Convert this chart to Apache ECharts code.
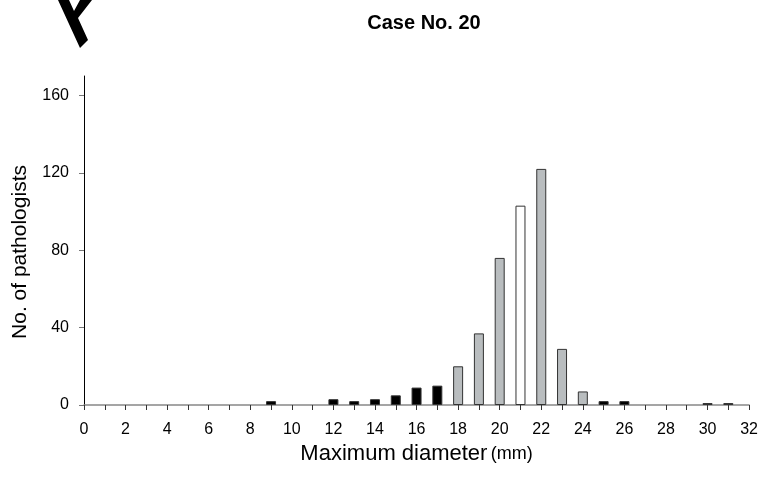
<!DOCTYPE html>
<html>
<head>
<meta charset="utf-8">
<script src="https://cdn.jsdelivr.net/npm/echarts@6/dist/echarts.min.js"></script>
<style>
  html, body { margin: 0; padding: 0; background: #fff; }
  #chart { width: 761px; height: 477px; }
</style>
</head>
<body>
<div id="chart"></div>
<script>
// diameter (mm) reported and how many pathologists reported it
const diameters = [9, 12, 13, 14, 15, 16, 17, 18, 19, 20, 21, 22, 23, 24, 25, 26, 30, 31];
const counts = [2, 3, 2, 3, 5, 9, 10, 20, 37, 76, 103, 122, 29, 7, 2, 2, 1, 1];
const trueDiameter = 21;
const nearRange = [18, 24];
const yTicks = [0, 40, 80, 120, 160];

const font = 'Liberation Sans, Arial, sans-serif';

const barData = diameters.map((d, i) => [d, counts[i]]);

function barColor (d) {
  if (d === trueDiameter) return '#ffffff';
  if (d >= nearRange[0] && d <= nearRange[1]) return '#b9bdbf';
  return '#000000';
}

const chart = echarts.init(document.getElementById('chart'));
chart.setOption({
  animation: false,
  title: {
    text: 'Case No. 20',
    left: 419,
    top: 8,
    textAlign: 'center',
    textStyle: { fontFamily: font, fontSize: 20, fontWeight: 'bold', color: '#000' }
  },
  graphic: [
    {
      type: 'polygon',
      shape: {
        points: [[58, 0], [69, 0], [74, 11], [80, 0], [92, 0], [78, 18], [88, 40], [80, 48]]
      },
      style: { fill: '#000' }
    },
    {
      // y axis title, sits a little below the axis middle in the original
      type: 'text',
      x: 20,
      y: 252,
      rotation: Math.PI / 2,
      style: {
        text: 'No. of pathologists',
        fontFamily: font,
        fontSize: 21,
        fill: '#000',
        align: 'center',
        verticalAlign: 'middle'
      }
    }
  ],
  grid: { left: 84, right: 11.5, top: 76, bottom: 72 },
  xAxis: {
    type: 'value',
    min: 0,
    max: 32,
    interval: 1,
    splitLine: { show: false },
    axisLine: { lineStyle: { color: '#888', width: 1.5 } },
    axisTick: { length: 5, lineStyle: { color: '#333' } },
    axisLabel: {
      margin: 17,
      fontFamily: font,
      fontSize: 16,
      color: '#000',
      formatter: v => (v % 2 === 0 ? String(v) : '')
    },
    name: '{a|Maximum diameter} {b|(mm)}',
    nameLocation: 'middle',
    nameGap: 37,
    nameTextStyle: {
      rich: {
        a: { fontFamily: font, fontSize: 22, color: '#000' },
        b: { fontFamily: font, fontSize: 18, color: '#000' }
      }
    }
  },
  yAxis: {
    type: 'value',
    min: 0,
    max: 170,
    interval: 40,
    splitLine: { show: false },
    axisLine: { show: true, lineStyle: { color: '#000', width: 1 } },
    axisTick: { show: true, length: 5, customValues: yTicks, lineStyle: { color: '#777' } },
    axisLabel: {
      margin: 15,
      fontFamily: font,
      fontSize: 16,
      color: '#000',
      customValues: yTicks
    }
  },
  series: [
    {
      type: 'bar',
      data: barData,
      barWidth: 10,
      itemStyle: {
        color: p => barColor(p.value[0]),
        borderColor: '#333',
        borderWidth: 1
      }
    }
  ]
});
</script>
</body>
</html>
